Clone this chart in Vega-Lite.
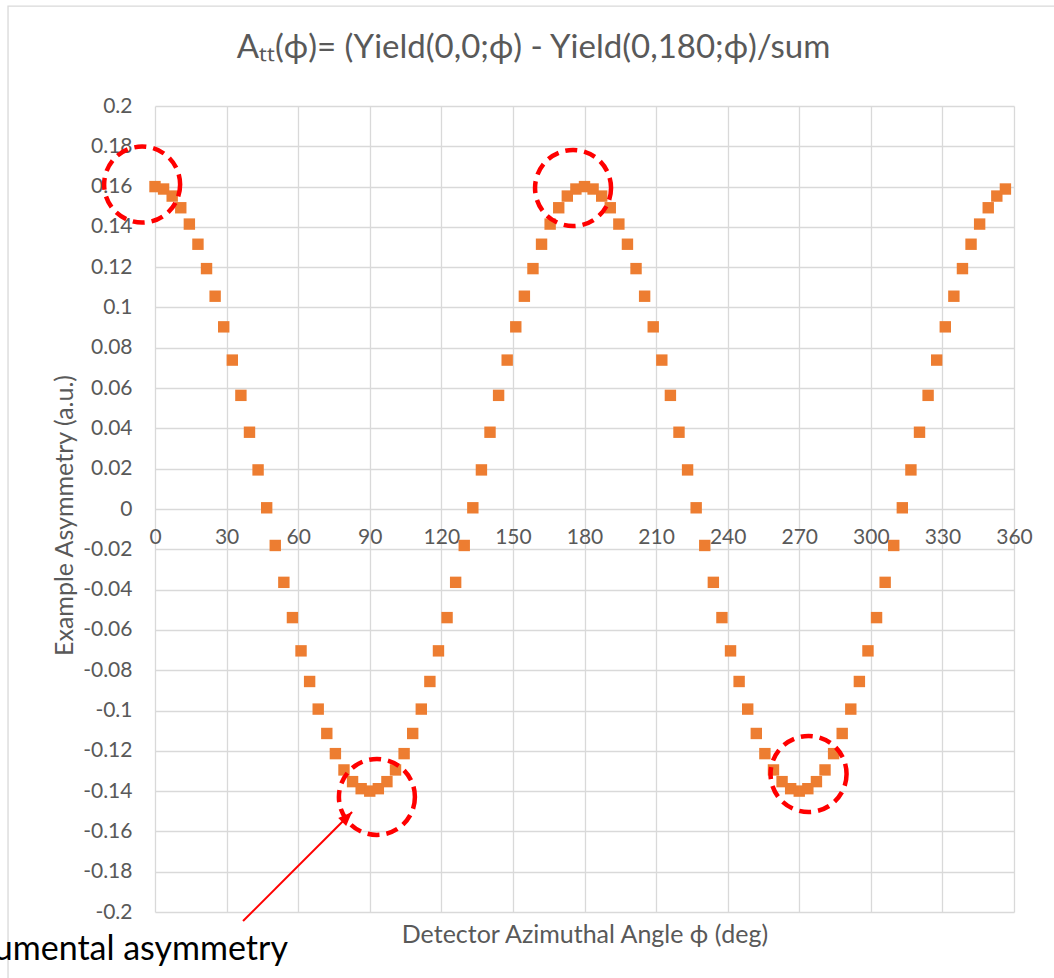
{
  "$schema": "https://vega.github.io/schema/vega-lite/v6.json",
  "width": 859,
  "height": 806,
  "autosize": {"type": "none"},
  "padding": {"left": 155, "top": 106, "right": 40, "bottom": 66},
  "background": "white",
  "config": {"font": "Lato", "view": {"stroke": null}},
  "title": {
    "text": "Aₜₜ(ϕ)= (Yield(0,0;ϕ) - Yield(0,180;ϕ)/sum",
    "fontSize": 33, "fontWeight": "normal", "color": "#595959", "font": "Lato",
    "anchor": "middle", "dx": -51, "dy": 86, "baseline": "alphabetic", "offset": 0
  },
  "datasets": {
    "series": [
      {"phi":0,"A":0.16},{"phi":3.6,"A":0.1588},{"phi":7.2,"A":0.1553},{"phi":10.8,"A":0.1495},{"phi":14.4,"A":0.1414},
      {"phi":18,"A":0.1314},{"phi":21.6,"A":0.1193},{"phi":25.2,"A":0.1056},{"phi":28.8,"A":0.0904},{"phi":32.4,"A":0.0739},
      {"phi":36,"A":0.0564},{"phi":39.6,"A":0.0381},{"phi":43.2,"A":0.0194},{"phi":46.8,"A":0.0006},{"phi":50.4,"A":-0.0181},
      {"phi":54,"A":-0.0364},{"phi":57.6,"A":-0.0539},{"phi":61.2,"A":-0.0704},{"phi":64.8,"A":-0.0856},{"phi":68.4,"A":-0.0993},
      {"phi":72,"A":-0.1114},{"phi":75.6,"A":-0.1214},{"phi":79.2,"A":-0.1295},{"phi":82.8,"A":-0.1353},{"phi":86.4,"A":-0.1388},
      {"phi":90,"A":-0.14},{"phi":93.6,"A":-0.1388},{"phi":97.2,"A":-0.1353},{"phi":100.8,"A":-0.1295},{"phi":104.4,"A":-0.1214},
      {"phi":108,"A":-0.1114},{"phi":111.6,"A":-0.0993},{"phi":115.2,"A":-0.0856},{"phi":118.8,"A":-0.0704},{"phi":122.4,"A":-0.0539},
      {"phi":126,"A":-0.0364},{"phi":129.6,"A":-0.0181},{"phi":133.2,"A":0.0006},{"phi":136.8,"A":0.0194},{"phi":140.4,"A":0.0381},
      {"phi":144,"A":0.0564},{"phi":147.6,"A":0.0739},{"phi":151.2,"A":0.0904},{"phi":154.8,"A":0.1056},{"phi":158.4,"A":0.1193},
      {"phi":162,"A":0.1314},{"phi":165.6,"A":0.1414},{"phi":169.2,"A":0.1495},{"phi":172.8,"A":0.1553},{"phi":176.4,"A":0.1588},
      {"phi":180,"A":0.16},{"phi":183.6,"A":0.1588},{"phi":187.2,"A":0.1553},{"phi":190.8,"A":0.1495},{"phi":194.4,"A":0.1414},
      {"phi":198,"A":0.1314},{"phi":201.6,"A":0.1193},{"phi":205.2,"A":0.1056},{"phi":208.8,"A":0.0904},{"phi":212.4,"A":0.0739},
      {"phi":216,"A":0.0564},{"phi":219.6,"A":0.0381},{"phi":223.2,"A":0.0194},{"phi":226.8,"A":0.0006},{"phi":230.4,"A":-0.0181},
      {"phi":234,"A":-0.0364},{"phi":237.6,"A":-0.0539},{"phi":241.2,"A":-0.0704},{"phi":244.8,"A":-0.0856},{"phi":248.4,"A":-0.0993},
      {"phi":252,"A":-0.1114},{"phi":255.6,"A":-0.1214},{"phi":259.2,"A":-0.1295},{"phi":262.8,"A":-0.1353},{"phi":266.4,"A":-0.1388},
      {"phi":270,"A":-0.14},{"phi":273.6,"A":-0.1388},{"phi":277.2,"A":-0.1353},{"phi":280.8,"A":-0.1295},{"phi":284.4,"A":-0.1214},
      {"phi":288,"A":-0.1114},{"phi":291.6,"A":-0.0993},{"phi":295.2,"A":-0.0856},{"phi":298.8,"A":-0.0704},{"phi":302.4,"A":-0.0539},
      {"phi":306,"A":-0.0364},{"phi":309.6,"A":-0.0181},{"phi":313.2,"A":0.0006},{"phi":316.8,"A":0.0194},{"phi":320.4,"A":0.0381},
      {"phi":324,"A":0.0564},{"phi":327.6,"A":0.0739},{"phi":331.2,"A":0.0904},{"phi":334.8,"A":0.1056},{"phi":338.4,"A":0.1193},
      {"phi":342,"A":0.1314},{"phi":345.6,"A":0.1414},{"phi":349.2,"A":0.1495},{"phi":352.8,"A":0.1553},{"phi":356.4,"A":0.1588}
    ],
    "frame": [
      {"phi":-61.6,"A":0.2496,"phi2":440,"A2":-0.4}
    ],
    "circles": [
      {"phi":-5.4,"A":0.161},{"phi":175.2,"A":0.1593},{"phi":93,"A":-0.1429},{"phi":273.9,"A":-0.1315}
    ],
    "arrow": [
      {"phi":36.9,"A":-0.2045,"phi2":82.6,"A2":-0.1504}
    ],
    "note": [
      {"phi":55.7,"A":-0.2238,"text":"Instrumental asymmetry"}
    ]
  },
  "layer": [
    {
      "data": {"name": "frame"},
      "mark": {"type": "rect", "fill": null, "stroke": "#d9d9d9", "strokeWidth": 1.3},
      "encoding": {
        "x": {"field": "phi", "type": "quantitative"},
        "y": {"field": "A", "type": "quantitative"},
        "x2": {"field": "phi2"},
        "y2": {"field": "A2"}
      }
    },
    {
      "data": {"name": "series"},
      "mark": {"type": "square", "size": 130, "color": "#ED7D31", "opacity": 1, "filled": true},
      "encoding": {
        "x": {
          "field": "phi", "type": "quantitative",
          "scale": {"domain": [0, 360], "nice": false, "zero": false},
          "axis": {
            "values": [0,30,60,90,120,150,180,210,240,270,300,330,360],
            "offset": -403, "domain": false, "ticks": false, "tickSize": 0,
            "grid": true, "gridColor": "#d9d9d9", "gridWidth": 1.3,
            "labelFlush": false, "labelOverlap": false, "labelBound": false,
            "labelPadding": 17, "labelFontSize": 21, "labelColor": "#595959", "labelFont": "Lato",
            "title": "Detector Azimuthal Angle ϕ (deg)", "titleY": 433, "titleBaseline": "alphabetic",
            "titleFontSize": 25, "titleFontWeight": "normal", "titleColor": "#595959", "titleFont": "Lato"
          }
        },
        "y": {
          "field": "A", "type": "quantitative",
          "scale": {"domain": [-0.2, 0.2], "nice": false, "zero": false},
          "axis": {
            "values": [-0.2,-0.18,-0.16,-0.14,-0.12,-0.1,-0.08,-0.06,-0.04,-0.02,0,0.02,0.04,0.06,0.08,0.1,0.12,0.14,0.16,0.18,0.2],
            "labelExpr": "replace(format(datum.value, '.2~f'), '\u2212', '-')",
            "domain": false, "ticks": false, "tickSize": 0,
            "grid": true, "gridColor": "#d9d9d9", "gridWidth": 1.3,
            "labelOverlap": false, "labelBound": false, "labelFlush": false,
            "labelPadding": 23, "labelFontSize": 21, "labelColor": "#595959", "labelFont": "Lato",
            "title": "Example Asymmetry (a.u.)", "titleAngle": -90, "titleX": -83, "titleY": 409,
            "titleAlign": "center", "titleBaseline": "alphabetic",
            "titleFontSize": 25, "titleFontWeight": "normal", "titleColor": "#595959", "titleFont": "Lato"
          }
        }
      }
    },
    {
      "data": {"name": "circles"},
      "mark": {"type": "point", "shape": "circle", "filled": false, "size": 5776, "stroke": "#FF0000", "strokeWidth": 4.5, "strokeDash": [12, 7], "opacity": 1},
      "encoding": {
        "x": {"field": "phi", "type": "quantitative"},
        "y": {"field": "A", "type": "quantitative"}
      }
    },
    {
      "data": {"name": "arrow"},
      "mark": {"type": "rule", "stroke": "#FF0000", "strokeWidth": 2},
      "encoding": {
        "x": {"field": "phi", "type": "quantitative"},
        "y": {"field": "A", "type": "quantitative"},
        "x2": {"field": "phi2"},
        "y2": {"field": "A2"}
      }
    },
    {
      "data": {"name": "arrow"},
      "mark": {"type": "point", "shape": "M0,0L0.8,2L-0.8,2Z", "filled": true, "color": "#FF0000", "size": 196, "angle": 45, "opacity": 1},
      "encoding": {
        "x": {"field": "phi2", "type": "quantitative"},
        "y": {"field": "A2", "type": "quantitative"}
      }
    },
    {
      "data": {"name": "note"},
      "mark": {"type": "text", "align": "right", "baseline": "alphabetic", "fontSize": 34, "font": "Lato", "color": "#000000"},
      "encoding": {
        "x": {"field": "phi", "type": "quantitative"},
        "y": {"field": "A", "type": "quantitative"},
        "text": {"field": "text"}
      }
    }
  ]
}
